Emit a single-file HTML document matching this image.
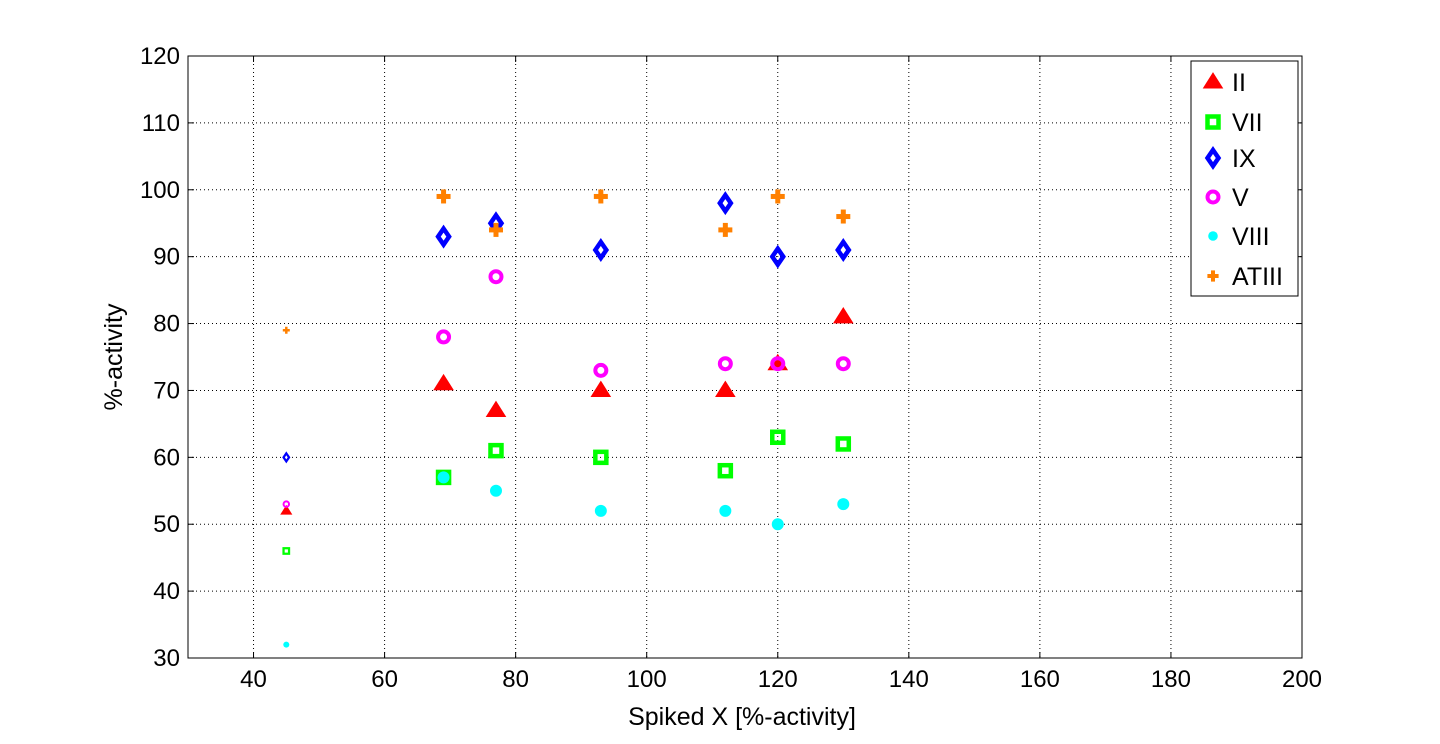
<!DOCTYPE html>
<html><head><meta charset="utf-8"><style>
body{margin:0;background:#fff;font-family:"Liberation Sans",sans-serif}
svg text{font-family:"Liberation Sans",sans-serif}
</style></head><body>
<svg id="c" width="1440" height="739"></svg>
<script>
const xTicks=[40,60,80,100,120,140,160,180,200];
const yTicks=[30,40,50,60,70,80,90,100,110,120];
const xs=[45,69,77,93,112,120,130];
const seriesNames=["II","VII","IX","V","VIII","ATIII"];
const vII=[52,71,67,70,70,74,81];
const vVII=[46,57,61,60,58,63,62];
const vIX=[60,93,95,91,98,90,91];
const vV=[53,78,87,73,74,74,74];
const vVIII=[32,57,55,52,52,50,53];
const vATIII=[79,99,94,99,94,99,96];
const seriesVals=[vII,vVII,vIX,vV,vVIII,vATIII];
const colors=["#ff0000","#00ff00","#0000ff","#ff00ff","#00ffff","#ff8000"];
const shapes=["tri","sq","dia","circ","dot","plus"];
const L=188,R=1302,T=56,B=658;
const sx=v=>L+(v-30)/(200-30)*(R-L);
const sy=v=>B-(v-30)/(120-30)*(B-T);
const svg=document.getElementById('c');const NS="http://www.w3.org/2000/svg";
function mk(t,a,p){const e=document.createElementNS(NS,t);for(const k in a)e.setAttribute(k,a[k]);(p||svg).appendChild(e);return e;}
mk('rect',{x:L,y:T,width:R-L,height:B-T,fill:'#fff'});
xTicks.forEach(v=>{const x=sx(v);
 if(v>30&&v<200){const g=mk('line',{x1:x,y1:T,x2:x,y2:B,stroke:'#000','stroke-dasharray':'1,3','stroke-width':1});}
 mk('line',{x1:x,y1:B,x2:x,y2:B-6,stroke:'#000'});mk('line',{x1:x,y1:T,x2:x,y2:T+6,stroke:'#000'});
 const t=mk('text',{x:x,y:B+29,'text-anchor':'middle','font-size':24});t.textContent=v;
 });
yTicks.forEach(v=>{const y=sy(v);
 if(v>30&&v<120){const g=mk('line',{x1:L,y1:y,x2:R,y2:y,stroke:'#000','stroke-dasharray':'1,3','stroke-width':1});}
 mk('line',{x1:L,y1:y,x2:L+6,y2:y,stroke:'#000'});mk('line',{x1:R,y1:y,x2:R-6,y2:y,stroke:'#000'});
 const t=mk('text',{x:L-8,y:y+8,'text-anchor':'end','font-size':24});t.textContent=v;
 });
const ax=mk('rect',{x:L,y:T,width:R-L,height:B-T,fill:'none',stroke:'#000','stroke-width':1});

function marker(shape,cx,cy,s,col,p){
 const g=mk('g',{},p);
 if(shape=='tri')mk('polygon',{points:`${cx},${cy-s*0.8} ${cx+s*0.85},${cy+s*0.55} ${cx-s*0.85},${cy+s*0.55}`,fill:col,stroke:col,'stroke-width':2},g);
 else if(shape=='sq'){mk('rect',{x:cx-s*0.55,y:cy-s*0.55,width:s*1.1,height:s*1.1,fill:'none',stroke:col,'stroke-width':s*0.45},g);}
 else if(shape=='dia')mk('polygon',{points:`${cx},${cy-s*0.8} ${cx+s*0.55},${cy} ${cx},${cy+s*0.8} ${cx-s*0.55},${cy}`,fill:'none',stroke:col,'stroke-width':s*0.45},g);
 else if(shape=='circ')mk('circle',{cx:cx,cy:cy,r:s*0.55,fill:'none',stroke:col,'stroke-width':s*0.4},g);
 else if(shape=='dot')mk('circle',{cx:cx,cy:cy,r:s*0.6,fill:col},g);
 else {mk('rect',{x:cx-s*0.7,y:cy-s*0.25,width:s*1.4,height:s*0.5,fill:col},g);mk('rect',{x:cx-s*0.25,y:cy-s*0.7,width:s*0.5,height:s*1.4,fill:col},g);}
 return g;}
seriesVals.forEach((vals,si)=>{vals.forEach((v,i)=>{
 const s=i==0?5:10;
 const m=marker(shapes[si],sx(xs[i]),sy(v),s,colors[si]);
 
 });});
const lg=mk('g',{});
mk('rect',{x:1191,y:61,width:107,height:235,fill:'#fff',stroke:'#000'},lg);
const ly=[82,122,158,197,236,276];
seriesNames.forEach((n,i)=>{const e=mk('g',{},lg);
 marker(shapes[i],1213,ly[i],i==4||i==5?8:10,colors[i],e);
 const t=mk('text',{x:1232,y:ly[i]+9,'font-size':25},e);t.textContent=n;});
const xl=mk('text',{x:742,y:725,'text-anchor':'middle','font-size':25});xl.textContent='Spiked X [%-activity]';

const yl=mk('text',{x:0,y:0,'text-anchor':'middle','font-size':25,transform:'translate(122,357) rotate(-90)'});yl.textContent='%-activity';

</script></body></html>
